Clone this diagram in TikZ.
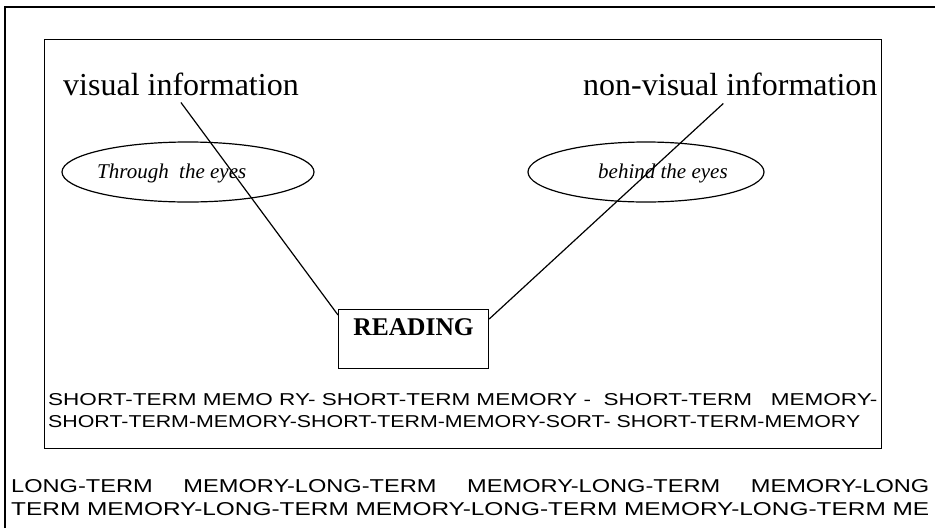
\documentclass[tikz,border=0pt]{standalone}
\usepackage{fontspec}
\usepackage{graphicx}
\setmainfont{Liberation Serif}
\setsansfont{Liberation Sans}
\usetikzlibrary{shapes.geometric}
\begin{document}
\begin{tikzpicture}[x=1pt,y=-1pt,
  frame/.style={draw, line width=1.2pt},
  bigtxt/.style={font=\fontsize{32}{36}\selectfont, inner sep=0pt, anchor=base west},
  eyetxt/.style={font=\fontsize{21}{24}\selectfont\itshape, inner sep=0pt, anchor=base west},
  oval/.style={draw, ellipse, line width=1.2pt, inner sep=0pt},
  memtxt/.style={inner sep=0pt, anchor=base west, font=\sffamily},
  conn/.style={draw, line width=1.2pt}]
\useasboundingbox (0,0) rectangle (935,528);
% outer frame (open to right and bottom)
\coordinate (obl) at (5,528);
\coordinate (otl) at (5,7);
\coordinate (otr) at (935,7);
\draw[frame] (obl) -- (otl) -- (otr);
% inner box
\node[frame, anchor=north west, minimum width=837pt, minimum height=409pt, inner sep=0pt] (stm) at (44,39) {};
% titles
\node[bigtxt] (vis) at (63,95) {visual information};
\node[bigtxt] (nv) at (583,95) {non-visual information};
% ellipses
\node[oval, minimum width=252pt, minimum height=60pt] (e1) at (188,172) {};
\node[oval, minimum width=236pt, minimum height=60pt] (e2) at (646,172) {};
\node[eyetxt] (t1) at (97,178) {Through\ \ the eyes};
\node[eyetxt] (t2) at (598,178) {behind the eyes};
% reading box
\node[frame, anchor=north west, minimum width=150pt, inner xsep=0pt, inner ysep=0pt,
      text height=26pt, text depth=33pt, font=\fontsize{25.5}{28}\selectfont\bfseries] (read) at (338,309) {READING};
% connectors
\draw[conn] ([yshift=-7pt]vis.south) -- ([yshift=-6pt]read.north west);
\draw[conn] ([xshift=-7pt,yshift=-8pt]nv.south) -- ([yshift=-10pt]read.north east);
% short-term memory text
\node[memtxt] (s1) at (48,405) {\resizebox{829pt}{12pt}{SHORT-TERM MEMO RY- SHORT-TERM MEMORY - \ SHORT-TERM\ \ \ MEMORY-}};
\node[memtxt] (s2) at (48,427) {\resizebox{812pt}{12pt}{SHORT-TERM-MEMORY-SHORT-TERM-MEMORY-SORT- SHORT-TERM-MEMORY}};
% long-term memory text
\node[memtxt] (l1) at (11,492) {\resizebox{918pt}{13pt}{LONG-TERM\hspace{1.3em}MEMORY-LONG-TERM\hspace{1.3em}MEMORY-LONG-TERM\hspace{1.3em}MEMORY-LONG}};
\node[memtxt] (l2) at (11,515) {\resizebox{918pt}{13pt}{TERM MEMORY-LONG-TERM MEMORY-LONG-TERM MEMORY-LONG-TERM ME}};
\end{tikzpicture}
\end{document}
